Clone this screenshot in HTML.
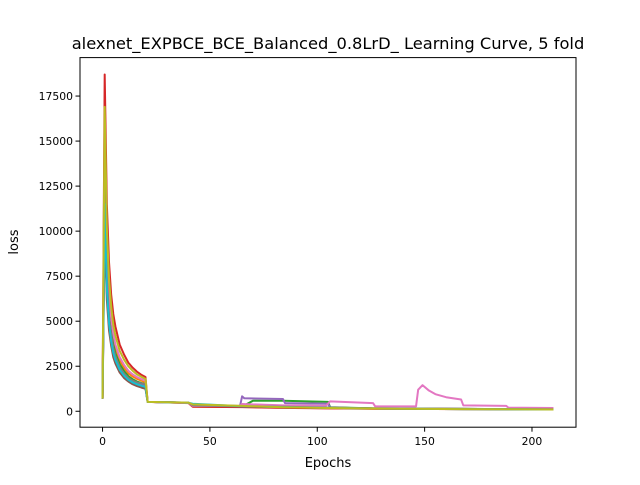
<!DOCTYPE html>
<html><head><meta charset="utf-8"><style>
body{margin:0;background:#fff}
svg text{font-family:"DejaVu Sans","Liberation Sans",sans-serif;fill:#000}
</style></head><body>
<svg id="chart" width="640" height="480" viewBox="0 0 640 480">
<rect width="640" height="480" fill="#fff"/>
<text x="328" y="49" font-size="16.3" text-anchor="middle">alexnet_EXPBCE_BCE_Balanced_0.8LrD_ Learning Curve, 5 fold</text>
<g id="plot"></g>
<g id="axes"></g>
<text x="328" y="467" font-size="13" text-anchor="middle">Epochs</text>
<text x="0" y="0" font-size="13" text-anchor="middle" transform="translate(18,242) rotate(-90)">loss</text>
</svg>
<script>
const xTicks = [0,50,100,150,200];
const yTicks = [0,2500,5000,7500,10000,12500,15000,17500];
const blue   = [[0,700],[1,12000],[2,7000],[3,5000],[4,4000],[5,3300],[6,2900],[8,2300],[10,1950],[12,1700],[14,1550],[16,1450],[18,1370],[20,1300],[21,520],[40,480],[42,320],[65,260],[84,220],[105,180],[126,150],[168,120],[210,100]];
const orange = [[0,700],[1,14000],[2,8300],[3,6000],[4,4750],[5,3900],[6,3400],[8,2800],[10,2400],[12,2100],[14,1930],[16,1800],[18,1700],[20,1600],[21,520],[40,450],[42,260],[65,240],[84,200],[105,170],[126,140],[168,120],[210,100]];
const green  = [[0,700],[1,13000],[2,7800],[3,5600],[4,4500],[5,3700],[6,3200],[8,2600],[10,2230],[12,1950],[14,1780],[16,1650],[18,1570],[20,1500],[21,520],[40,470],[42,300],[65,260],[70,580],[84,580],[105,520],[106,220],[126,160],[168,130],[210,100]];
const red    = [[0,700],[1,18700],[2,11500],[3,8300],[4,6500],[5,5400],[6,4700],[8,3700],[10,3150],[12,2700],[14,2420],[16,2200],[18,2030],[20,1900],[21,520],[40,460],[42,250],[65,230],[84,190],[105,160],[126,140],[168,120],[210,100]];
const purple = [[0,700],[1,11000],[2,6600],[3,4800],[4,3850],[5,3200],[6,2800],[8,2300],[10,1980],[12,1750],[14,1630],[16,1550],[18,1470],[20,1400],[21,520],[40,470],[42,310],[64,280],[65,830],[66,720],[84,680],[85,450],[105,420],[106,200],[126,150],[168,130],[210,110]];
const brown  = [[0,700],[1,10000],[2,6200],[3,4500],[4,3650],[5,3000],[6,2650],[8,2150],[10,1850],[12,1650],[14,1500],[16,1400],[18,1320],[20,1250],[21,520],[40,470],[42,310],[65,270],[84,240],[105,200],[126,160],[168,130],[210,100]];
const pink   = [[0,700],[1,15000],[2,9000],[3,6500],[4,5200],[5,4300],[6,3700],[8,3000],[10,2580],[12,2250],[14,2050],[16,1900],[18,1790],[20,1700],[21,520],[40,460],[42,300],[64,300],[65,400],[84,330],[104,300],[106,550],[126,450],[127,270],[146,270],[147,1200],[149,1450],[152,1150],[155,950],[160,780],[167,650],[168,330],[188,300],[189,200],[210,180]];
const gray   = [[0,700],[1,12500],[2,7400],[3,5300],[4,4250],[5,3500],[6,3050],[8,2450],[10,2100],[12,1850],[14,1700],[16,1600],[18,1550],[20,1500],[21,520],[40,480],[42,330],[65,280],[84,250],[105,200],[126,160],[168,130],[210,110]];
const cyan   = [[0,700],[1,11500],[2,6800],[3,4900],[4,3900],[5,3250],[6,2850],[8,2300],[10,1980],[12,1750],[14,1600],[16,1500],[18,1420],[20,1350],[21,520],[40,470],[42,420],[65,280],[84,230],[105,190],[126,150],[168,120],[210,100]];
const olive  = [[0,700],[1,16900],[2,10200],[3,7400],[4,5850],[5,4800],[6,4200],[8,3350],[10,2870],[12,2500],[14,2250],[16,2050],[18,1920],[20,1800],[21,520],[40,480],[42,380],[65,300],[84,220],[105,180],[126,150],[168,120],[210,100]];
const seriesList = [blue,orange,green,red,purple,brown,pink,gray,cyan,olive];
const seriesNames = ['blue','orange','green','red','purple','brown','pink','gray','cyan','olive'];
const colors = ['#1f77b4','#ff7f0e','#2ca02c','#d62728','#9467bd','#8c564b','#e377c2','#7f7f7f','#17becf','#bcbd22'];

const L=80,R=576,T=57.6,B=427.2;
const xMin=-10.5,xMax=220.5,yMin=-885,yMax=19635;
const xs=v=>L+(v-xMin)/(xMax-xMin)*(R-L);
const ys=v=>B-(v-yMin)/(yMax-yMin)*(B-T);
const NS='http://www.w3.org/2000/svg';
const plot=document.getElementById('plot'), axes=document.getElementById('axes');
function mk(tag,attrs,parent){const e=document.createElementNS(NS,tag);for(const k in attrs)e.setAttribute(k,attrs[k]);parent.appendChild(e);return e;}
const clip=mk('clipPath',{id:'clp'},plot);mk('rect',{x:L,y:T,width:R-L,height:B-T},clip);
seriesList.forEach((s,i)=>{
  const p=mk('polyline',{points:s.map(d=>xs(d[0]).toFixed(2)+','+ys(d[1]).toFixed(2)).join(' '),fill:'none',stroke:colors[i],'stroke-width':2,'stroke-linejoin':'round','clip-path':'url(#clp)'},plot);
  
  
});
const fr=mk('rect',{x:L,y:T,width:R-L,height:B-T,fill:'none',stroke:'#000','stroke-width':1},axes);


xTicks.forEach(t=>{
  const x=xs(t);
  mk('line',{x1:x,x2:x,y1:B,y2:B+4.5,stroke:'#000','stroke-width':1},axes);
  const tx=mk('text',{x:x,y:B+18,'font-size':10.8,'text-anchor':'middle'},axes);
  tx.textContent=t;
  
  
});
yTicks.forEach(t=>{
  const y=ys(t);
  mk('line',{x1:L-4.5,x2:L,y1:y,y2:y,stroke:'#000','stroke-width':1},axes);
  const tx=mk('text',{x:L-7,y:y+4,'font-size':10.8,'text-anchor':'end'},axes);
  tx.textContent=t;
  
  
});
</script>
</body></html>
